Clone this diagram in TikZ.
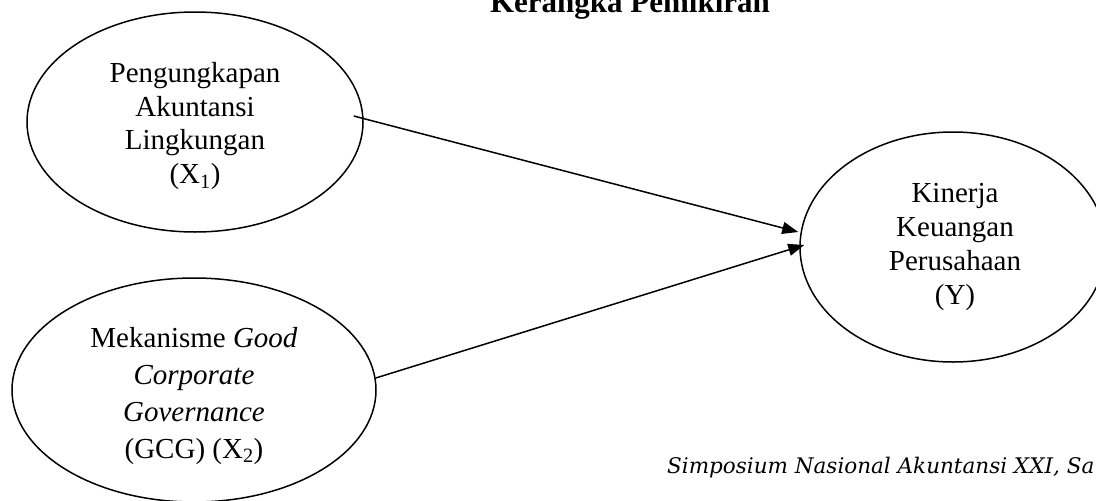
\documentclass[tikz,border=0pt]{standalone}
\usepackage{fontspec}
\setmainfont{Liberation Serif}
\newfontfamily\footfont{DejaVu Serif}
\usetikzlibrary{shapes.geometric,arrows.meta}
\begin{document}
\begin{tikzpicture}[x=1pt,y=-1pt,
  oval/.style={draw, ellipse, line width=1.5pt, inner sep=0pt},
  lbl/.style={align=center, inner sep=0pt},
  conn/.style={line width=1.5pt, -{Triangle[length=16pt,width=12pt]}}]
\useasboundingbox (0,0) rectangle (1096,501);
% ellipses
\node[oval, minimum width=336pt, minimum height=220pt] (x1) at (195,122) {};
\node[oval, minimum width=364pt, minimum height=224pt] (x2) at (194,390) {};
\node[oval, minimum width=306pt, minimum height=230pt] (y) at (953,247) {};
% texts
\node[lbl, font=\fontsize{29}{33.5}\selectfont] (x1t) at (195,126)
  {Pengungkapan\\Akuntansi\\Lingkungan\\(X\textsubscript{1})};
\node[lbl, font=\fontsize{29}{36.7}\selectfont] (x2t) at (194,396)
  {Mekanisme \textit{Good}\\\textit{Corporate}\\\textit{Governance}\\(GCG) (X\textsubscript{2})};
\node[lbl, font=\fontsize{29}{34}\selectfont] (yt) at (955,247)
  {Kinerja\\Keuangan\\Perusahaan\\(Y)};
% title and footer
\node[anchor=base, inner sep=0pt, font=\fontsize{31}{36}\selectfont\bfseries] (title) at (630,12) {Kerangka Pemikiran};
\node[anchor=base west, inner sep=0pt, font=\footfont\itshape\fontsize{21.5}{26}\selectfont] (foot) at (667,473) {Simposium Nasional Akuntansi XXI, Sa};
% connectors
\draw[conn] ([xshift=-10pt,yshift=6pt]x1.east) -- ([xshift=-1pt,yshift=15pt]y.west);
\draw[conn] ([xshift=-1pt,yshift=12pt]x2.east) -- ([xshift=5pt,yshift=2pt]y.west);
\end{tikzpicture}
\end{document}
